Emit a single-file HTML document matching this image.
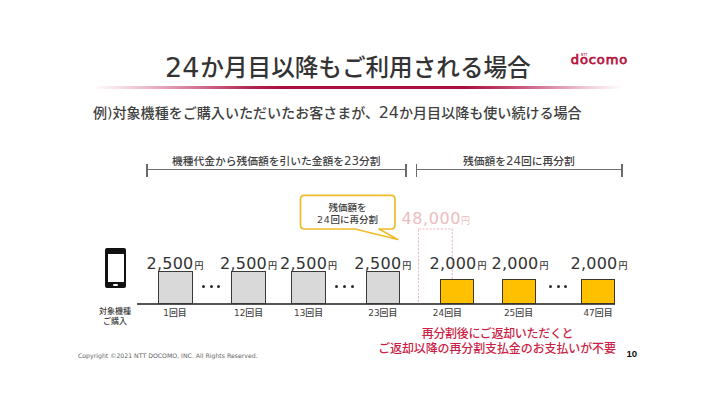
<!DOCTYPE html>
<html lang="ja">
<head>
<meta charset="utf-8">
<style>
html,body{margin:0;padding:0;background:#fff;}
body{width:715px;height:402px;position:relative;overflow:hidden;font-family:"Liberation Sans","Noto Sans CJK JP",sans-serif;color:#404040;}
.a{position:absolute;white-space:nowrap;line-height:1;}
.jp{font-family:"DejaVu Sans","Noto Sans CJK JP",sans-serif;}
#title{left:166px;top:52.7px;font-weight:500;font-size:23.6px;color:#333;}
#title .n{font-size:27px;font-weight:400;position:relative;top:1.5px;left:-1px;}
#rule{position:absolute;left:93px;top:86.4px;width:529px;height:2.4px;background:linear-gradient(90deg,rgba(168,14,60,0) 0%,rgba(190,40,90,.15) 5%,rgba(190,40,90,.35) 11%,rgba(180,20,70,.6) 20%,rgba(168,14,60,.9) 30%,rgba(168,14,60,1) 36%,rgba(168,14,60,1) 70%,rgba(175,20,66,.8) 78%,rgba(185,35,85,.55) 86%,rgba(190,40,90,.25) 93%,rgba(190,40,90,0) 100%);}
#logo{left:570.8px;top:53.2px;font-family:"DejaVu Sans",sans-serif;font-weight:normal;font-size:13px;color:#b8123e;letter-spacing:0.9px;-webkit-text-stroke:0.75px #b8123e;}
#ntt{left:581px;top:55px;font-family:"Liberation Sans",sans-serif;font-size:2.7px;color:#b8123e;font-weight:bold;letter-spacing:0.5px;}
#sub{left:93px;top:105.5px;font-size:14.05px;color:#404040;font-weight:500;}
.br{position:absolute;height:1.2px;background:#6f6f6f;}
.tick{position:absolute;width:1.5px;height:13px;background:#6a6a6a;}
.blab{font-size:10.75px;color:#404040;font-weight:500;}
.bd{font-size:11.8px;line-height:0;}

.bar{position:absolute;box-sizing:border-box;border:1.4px solid #3a3a3a;}
.g{background:#d9d9d9;top:271px;height:33px;}
.y{background:#ffc000;top:279px;height:25px;border-color:#3d3626;}
.amt{position:absolute;white-space:nowrap;line-height:1;font-family:"DejaVu Sans","Noto Sans CJK JP",sans-serif;color:#333;font-size:16px;text-align:center;width:80px;letter-spacing:0.25px;}
.amt small{font-size:9px;margin-left:1px;letter-spacing:0;font-weight:500;}
.dot{position:absolute;width:3px;height:3px;border-radius:50%;background:#2a2a2a;top:284.8px;margin-left:-0.2px;}
.lab{position:absolute;white-space:nowrap;line-height:1;font-family:"DejaVu Sans","Noto Sans CJK JP",sans-serif;color:#404040;font-size:8.9px;text-align:center;width:60px;top:308.9px;font-weight:500;}
</style>
</head>
<body>
<div class="a jp" id="title"><span class="n">24</span>か月目以降もご利用される場合</div>
<div id="rule"></div>
<div class="a" id="ntt">NTT</div>
<div class="a" id="logo">docomo</div>
<div class="a jp" id="sub">例)対象機種をご購入いただいたお客さまが、<span style="font-size:16px;line-height:0;margin-left:-0.5px">24</span>か月目以降も使い続ける場合</div>

<div class="br" style="left:147px;top:168.9px;width:259px;"></div>
<div class="tick" style="left:146px;top:163.5px;"></div>
<div class="tick" style="left:405.3px;top:163.7px;"></div>
<div class="a jp blab" style="left:172px;top:156.6px;">機種代金から残価額を引いた金額を<span class="bd">23</span>分割</div>

<div class="br" style="left:416px;top:168.9px;width:206px;"></div>
<div class="tick" style="left:415.7px;top:163.7px;"></div>
<div class="tick" style="left:621px;top:163.7px;"></div>
<div class="a jp blab" style="left:463px;top:156.6px;">残価額を<span class="bd">24</span>回に再分割</div>


<!-- balloon -->
<svg style="position:absolute;left:0;top:0" width="715" height="402">
<path d="M304.5,195.3 H391 Q395,195.3 395,199.3 V225 Q395,229 391,229 H379 L397.8,239.5 L355,229 H304.5 Q300.5,229 300.5,225 V199.3 Q300.5,195.3 304.5,195.3 Z" fill="#fff" stroke="#eebb2a" stroke-width="1.7" stroke-linejoin="round"/>
<rect x="418.5" y="229" width="33.7" height="75" fill="none" stroke="#ebbcc2" stroke-width="1.1" stroke-dasharray="2.3,1.4"/>
</svg>
<div class="a jp" style="left:300px;top:202px;width:95px;text-align:center;font-size:9.5px;line-height:12px;color:#404040;font-weight:500;white-space:normal;">残価額を<br><span style="letter-spacing:0.8px">24</span>回に再分割</div>
<div class="a jp" style="left:401.5px;top:211px;font-size:16px;color:#ecbcc0;letter-spacing:0.6px;">48,000<span style="font-size:9px;letter-spacing:0">円</span></div>

<!-- phone -->
<div style="position:absolute;left:105px;top:248px;width:21px;height:40px;background:#111;border-radius:2px;"></div>
<div style="position:absolute;left:108px;top:253.7px;width:15.7px;height:28.5px;background:#fff;"></div>
<div style="position:absolute;left:113px;top:284px;width:5px;height:2px;background:#fff;border-radius:1px;"></div>
<div class="a jp" style="left:95px;top:307px;width:40px;text-align:center;font-size:8px;line-height:10px;color:#404040;font-weight:500;white-space:normal;">対象機種<br>ご購入</div>

<!-- baseline -->
<div style="position:absolute;left:137px;top:303px;width:478px;height:1.6px;background:#555;"></div>

<div class="bar g" style="left:157.6px;width:35px;"></div>
<div class="bar g" style="left:231.3px;width:34.5px;"></div>
<div class="bar g" style="left:291.2px;width:34.8px;"></div>
<div class="bar g" style="left:365.6px;width:34.4px;"></div>
<div class="bar y" style="left:439.8px;width:34px;"></div>
<div class="bar y" style="left:502px;width:33.5px;"></div>
<div class="bar y" style="left:581.3px;width:33.7px;"></div>

<div class="amt" style="left:135px;top:255.5px;">2,500<small>円</small></div>
<div class="amt" style="left:208.5px;top:255.5px;">2,500<small>円</small></div>
<div class="amt" style="left:268.6px;top:255.5px;">2,500<small>円</small></div>
<div class="amt" style="left:342.8px;top:255.5px;">2,500<small>円</small></div>
<div class="amt" style="left:418px;top:255.5px;">2,000<small>円</small></div>
<div class="amt" style="left:480px;top:255.5px;">2,000<small>円</small></div>
<div class="amt" style="left:559px;top:255.5px;">2,000<small>円</small></div>

<div class="dot" style="left:202.6px"></div><div class="dot" style="left:210.1px"></div><div class="dot" style="left:217.6px"></div>
<div class="dot" style="left:335.5px"></div><div class="dot" style="left:343.3px"></div><div class="dot" style="left:351.5px"></div>
<div class="dot" style="left:549.2px"></div><div class="dot" style="left:557.1px"></div><div class="dot" style="left:564.5px"></div>

<div class="lab" style="left:145px;">1回目</div>
<div class="lab" style="left:218.6px;">12回目</div>
<div class="lab" style="left:278.6px;">13回目</div>
<div class="lab" style="left:352.8px;">23回目</div>
<div class="lab" style="left:417.4px;">24回目</div>
<div class="lab" style="left:488.5px;">25回目</div>
<div class="lab" style="left:568px;">47回目</div>

<div class="a jp" style="left:376px;top:326.5px;width:242px;text-align:center;font-size:12px;line-height:15px;color:#cc1f48;font-weight:500;"><span style="letter-spacing:-0.33px;margin-left:1px">再分割後にご返却いただくと</span><br><span style="letter-spacing:-0.12px">ご返却以降の再分割支払金のお支払いが不要</span></div>

<div class="a" style="left:78px;top:352.7px;font-family:'DejaVu Sans',sans-serif;font-size:6.2px;color:#666;">Copyright ©2021 NTT DOCOMO, INC. All Rights Reserved.</div>
<div class="a" style="left:626.5px;top:349.3px;font-family:'Liberation Sans',sans-serif;font-weight:bold;font-size:9.6px;color:#111;">10</div>
</body>
</html>
